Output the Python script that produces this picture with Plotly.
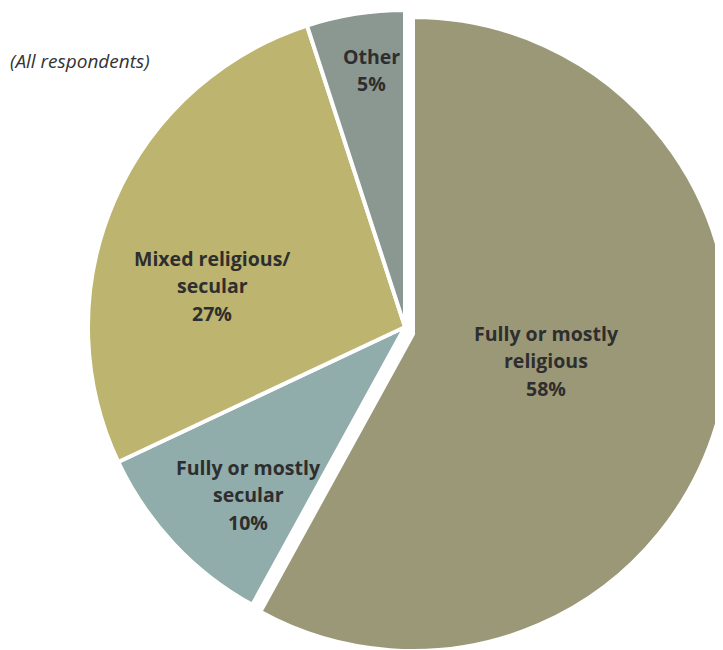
import plotly.graph_objects as go

# Data
categories = ["Fully or mostly religious", "Fully or mostly secular",
              "Mixed religious/ secular", "Other"]
values = [58, 10, 27, 5]
label_lines = [["Fully or mostly", "religious"], ["Fully or mostly", "secular"],
               ["Mixed religious/", "secular"], ["Other"]]
colors = ["#9B9878", "#90ACAB", "#BCB46F", "#8A9891"]

W, H = 740, 660      # figure is a little larger than the window; page body has an 8px margin
OFF = 8              # body margin of the html page
CLEAR = "rgba(0,0,0,0)"


def dom(cx, cy, r):
    """domain for a pie centred at screen pixel (cx, cy) with radius r"""
    cx, cy = cx - OFF, cy - OFF
    return dict(x=[(cx - r) / W, (cx + r) / W], y=[1 - (cy + r) / H, 1 - (cy - r) / H])


fig = go.Figure()

# the three smaller slices
fig.add_trace(go.Pie(
    labels=categories, values=values, sort=False, direction="clockwise", rotation=0,
    marker=dict(colors=[CLEAR] + colors[1:],
                line=dict(color="white", width=[0, 4, 4, 4])),
    textinfo="none", hoverinfo="label+percent", showlegend=False,
    domain=dom(405, 327, 317),
))

# the religious slice, drawn slightly exploded
fig.add_trace(go.Pie(
    labels=categories, values=values, sort=False, direction="clockwise", rotation=0,
    marker=dict(colors=[colors[0], CLEAR, CLEAR, CLEAR],
                line=dict(color="white", width=[4, 0, 0, 0])),
    textinfo="none", hoverinfo="label+percent", showlegend=False,
    domain=dom(413, 334, 317),
))

# label placement (screen pixel centres of the first text line)
label_pos = [(546, 333), (248, 467), (212, 258), (371, 56)]
font = dict(family="Open Sans, sans-serif", size=19.5, color="#2E2E2E")
for lines, v, (px, py) in zip(label_lines, values, label_pos):
    for i, line in enumerate(lines + [f"{v}%"]):
        fig.add_annotation(
            x=(px - OFF) / W, y=1 - (py + i * 27.5 - OFF) / H,
            xref="paper", yref="paper", xanchor="center", yanchor="middle",
            text=f"<b>{line}</b>", showarrow=False, font=font,
        )

fig.add_annotation(
    x=(8 - OFF) / W, y=1 - (61 - OFF) / H, xref="paper", yref="paper",
    xanchor="left", yanchor="middle",
    text="<i>(All respondents)</i>", showarrow=False,
    font=dict(family="Open Sans, sans-serif", size=19, color="#333333"),
)

fig.update_layout(
    width=W, height=H,
    margin=dict(l=0, r=0, t=0, b=0),
    paper_bgcolor="white",
    plot_bgcolor="white",
)

fig.write_html("out.html")
